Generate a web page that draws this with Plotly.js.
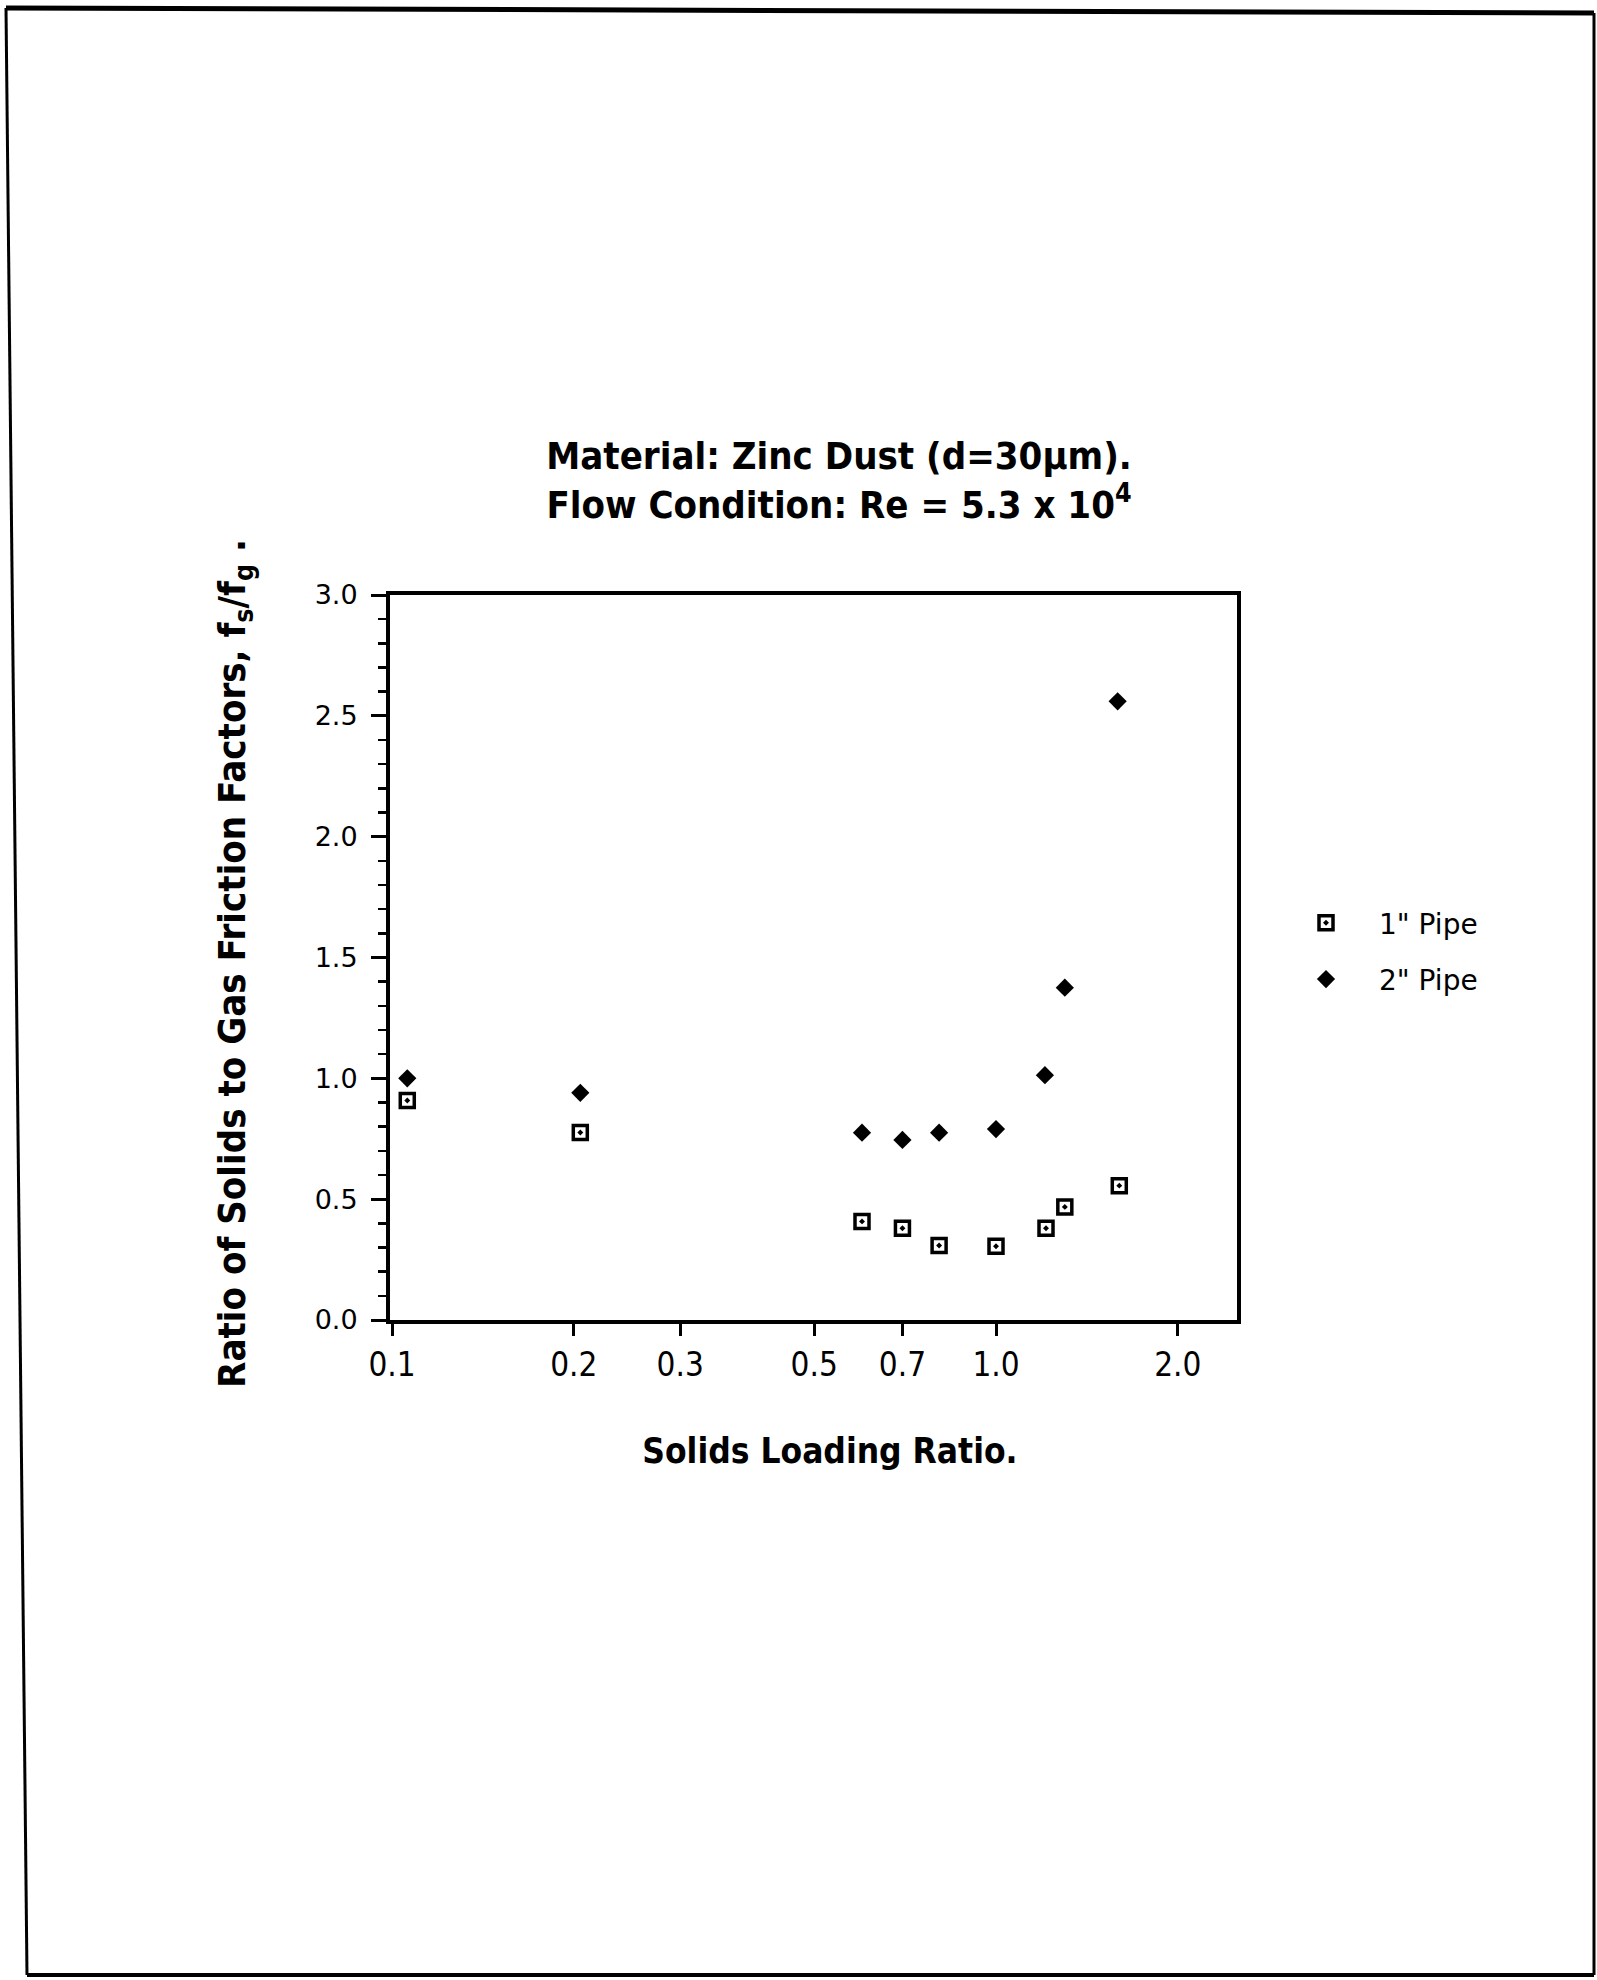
<!DOCTYPE html>
<html>
<head>
<meta charset="utf-8">
<script src="https://cdn.plot.ly/plotly-3.0.1.min.js"></script>
<style>
  html, body { margin: 0; padding: 0; background: #fff; }
  #chart { width: 1597px; height: 1980px; }
</style>
</head>
<body>
<div id="chart"></div>
<script>
// ---- data ----
const loading1in = [0.106, 0.205, 0.60, 0.70, 0.805, 1.0, 1.21, 1.30, 1.60];
const ratio1in   = [0.908, 0.776, 0.408, 0.380, 0.308, 0.305, 0.380, 0.468, 0.556];

const loading2in = [0.106, 0.205, 0.60, 0.70, 0.805, 1.0, 1.205, 1.30, 1.59];
const ratio2in   = [1.00, 0.94, 0.775, 0.745, 0.775, 0.79, 1.013, 1.375, 2.56];

const seriesNames = ['1" Pipe', '2" Pipe'];

const xTickVals = [0.1, 0.2, 0.3, 0.5, 0.7, 1.0, 2.0];
const xTickText = ['0.1', '0.2', '0.3', '0.5', '0.7', '1.0', '2.0'];

const titleText = 'Material: Zinc Dust (d=30µm).<br>Flow Condition: Re = 5.3 x 10<sup>4</sup>';
const xTitleText = '&nbsp;&nbsp;&nbsp;Solids Loading Ratio.';
const yTitleText = 'Ratio of Solids to Gas Friction Factors, f<sub>s</sub>/f<sub>g</sub> .&nbsp;';

// ---- layout geometry (pixels) ----
const W = 1597, H = 1980;
const L = 390, R = 360, T = 595, B = 660;
const pw = W - L - R, ph = H - T - B;
const px = v => (v - L) / pw;
const py = v => 1 - (v - T) / ph;

const boldFont = 'DejaVu Sans Condensed, DejaVu Sans, sans-serif';

const traces = [
  {
    x: loading1in, y: ratio1in, name: seriesNames[0],
    type: 'scatter', mode: 'markers', legendgroup: 'a',
    marker: { symbol: 'square-open-dot', size: 14, color: '#000', line: { width: 3.5, color: '#000' } }
  },
  {
    x: loading2in, y: ratio2in, name: seriesNames[1],
    type: 'scatter', mode: 'markers', legendgroup: 'b',
    marker: { symbol: 'diamond', size: 14, color: '#000', line: { width: 0 } }
  }
];

const layout = {
  width: W, height: H,
  margin: { l: L, r: R, t: T, b: B, pad: 0 },
  paper_bgcolor: '#fff', plot_bgcolor: '#fff',
  showlegend: true,
  title: {
    text: titleText,
    font: { family: boldFont, size: 38, color: '#000', weight: 'bold' },
    xref: 'container', yref: 'container',
    x: 839 / W, xanchor: 'center',
    y: 1 - 469 / H, yanchor: 'middle'
  },
  xaxis: {
    type: 'log',
    range: [Math.log10(0.1) - 2 / 604, Math.log10(0.1) + (1237 - 392) / 604],
    tickmode: 'array', tickvals: xTickVals, ticktext: xTickText,
    ticks: 'outside', ticklen: 12, tickwidth: 3, tickcolor: '#000',
    ticklabelstandoff: 0,
    tickfont: { family: 'DejaVu Sans Condensed, DejaVu Sans, sans-serif', size: 33, color: '#000' },
    showline: true, linewidth: 4, linecolor: '#000', mirror: true,
    showgrid: false, zeroline: false,
    title: {
      text: xTitleText, standoff: 57,
      font: { family: boldFont, size: 35, color: '#000', weight: 'bold' }
    }
  },
  yaxis: {
    range: [0, 3],
    dtick: 0.5, tick0: 0, tickformat: '.1f',
    ticks: 'outside', ticklen: 15, tickwidth: 3, tickcolor: '#000',
    ticklabelstandoff: 8,
    minor: { dtick: 0.1, ticks: 'outside', ticklen: 8, tickwidth: 2.5, tickcolor: '#000', showgrid: false },
    tickfont: { family: 'DejaVu Sans, sans-serif', size: 27, color: '#000' },
    showline: true, linewidth: 4, linecolor: '#000', mirror: true,
    showgrid: false, zeroline: false,
    title: {
      text: yTitleText, standoff: 58,
      font: { family: boldFont, size: 38, color: '#000', weight: 'bold' }
    }
  },
  legend: {
    x: px(1273), xanchor: 'left',
    y: py(898), yanchor: 'top',
    itemwidth: 96,
    tracegroupgap: 17,
    traceorder: 'grouped',
    bgcolor: 'rgba(0,0,0,0)',
    font: { family: 'DejaVu Sans, sans-serif', size: 28, color: '#000' }
  },
  shapes: [
    { type: 'line', xref: 'paper', yref: 'paper', x0: px(6), y0: py(8), x1: px(1594), y1: py(13), line: { color: '#000', width: 5 } },
    { type: 'line', xref: 'paper', yref: 'paper', x0: px(1594), y0: py(13), x1: px(1594), y1: py(1975), line: { color: '#000', width: 3 } },
    { type: 'line', xref: 'paper', yref: 'paper', x0: px(27), y0: py(1975), x1: px(1594), y1: py(1975), line: { color: '#000', width: 4 } },
    { type: 'line', xref: 'paper', yref: 'paper', x0: px(6), y0: py(8), x1: px(27), y1: py(1975), line: { color: '#000', width: 3 } }
  ]
};

Plotly.newPlot('chart', traces, layout, { displayModeBar: false, staticPlot: true });
</script>
</body>
</html>
